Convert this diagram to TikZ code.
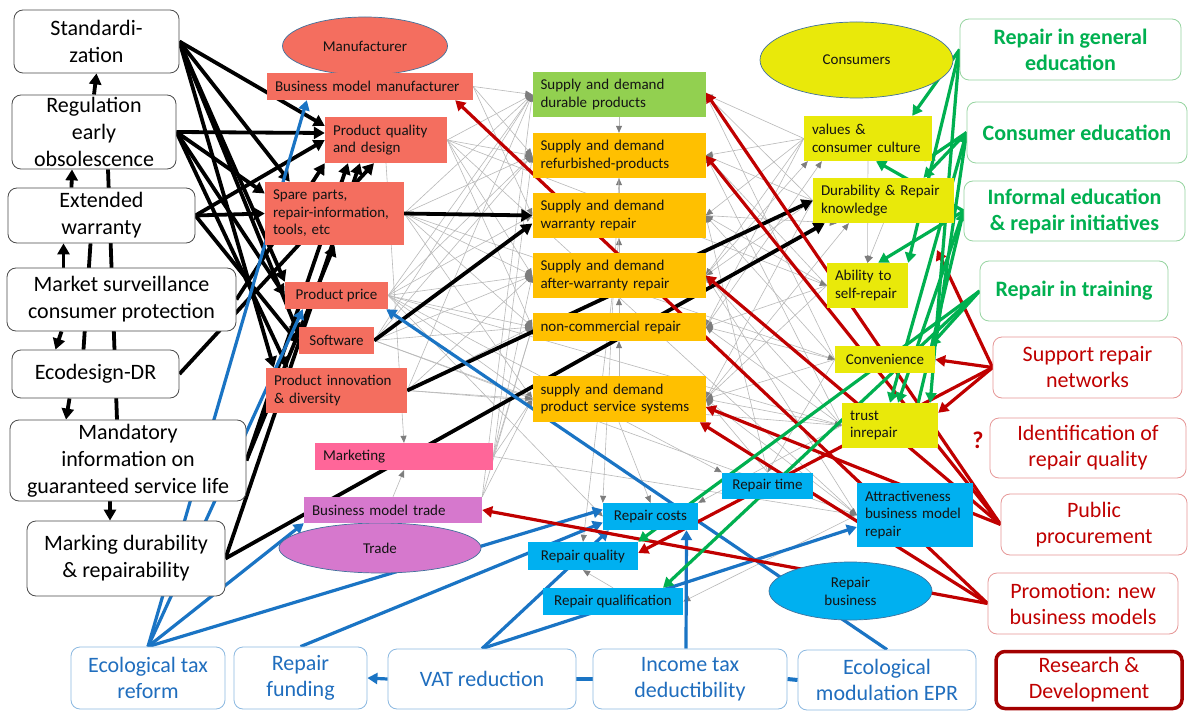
\documentclass[tikz,border=0pt]{standalone}
\usepackage{fontspec}
\setmainfont{Carlito}
\usetikzlibrary{arrows.meta,shapes.geometric,calc}
\pgfdeclarelayer{bg}
\pgfdeclarelayer{edges}
\pgfsetlayers{bg,edges,main}
\definecolor{salmon}{RGB}{244,110,95}
\definecolor{mktpink}{RGB}{255,102,153}
\definecolor{orchidc}{RGB}{214,120,205}
\definecolor{sdgreen}{RGB}{146,208,80}
\definecolor{sdorange}{RGB}{255,192,0}
\definecolor{ylw}{RGB}{233,233,10}
\definecolor{skyb}{RGB}{0,176,240}
\definecolor{ellborder}{RGB}{65,113,156}
\definecolor{egreen}{RGB}{0,176,80}
\definecolor{ered}{RGB}{192,0,0}
\definecolor{eblue}{RGB}{26,116,196}
\definecolor{tblue}{RGB}{32,110,190}
\definecolor{gborder}{RGB}{150,212,160}
\definecolor{rborder}{RGB}{230,150,150}
\definecolor{bborder}{RGB}{140,185,225}
\definecolor{boxtext}{RGB}{20,20,20}
\definecolor{tipgray}{RGB}{125,125,125}
\tikzset{
  lbox/.style={draw=black!70, line width=0.8pt, rounded corners=9pt, fill=white, align=center, inner sep=1pt, font=\fontsize{22}{27}\selectfont},
  gbox/.style={draw=gborder, line width=0.8pt, rounded corners=9pt, fill=white, align=center, inner sep=1pt, text=egreen, font=\bfseries\fontsize{22}{26}\selectfont},
  rbox/.style={draw=rborder, line width=0.8pt, rounded corners=9pt, fill=white, align=center, inner sep=1pt, text=ered, font=\fontsize{22}{26}\selectfont},
  bbox/.style={draw=bborder, line width=0.8pt, rounded corners=9pt, fill=white, align=center, inner sep=1pt, text=tblue, font=\fontsize{22}{26}\selectfont},
  cbox/.style={rectangle, inner xsep=8pt, inner ysep=2pt, align=left, text=boxtext, font=\fontsize{15}{17.5}\selectfont},
  ccbox/.style={rectangle, inner sep=2pt, align=center, text=boxtext, font=\fontsize{15}{17.5}\selectfont},
  ell/.style={ellipse, draw=ellborder, line width=0.7pt, inner sep=0pt, align=center, text=boxtext, font=\fontsize{15}{18}\selectfont},
  gy/.style={line width=0.6pt, draw=gray!55, -{Triangle[length=7pt,width=6pt,color=tipgray]}},
  blk/.style={line width=3.8pt, black, -{Triangle[length=11pt,width=12pt]}},
  blkl/.style={line width=3.8pt, black},
  blu/.style={line width=3.2pt, eblue, -{Triangle[length=10pt,width=11pt]}},
  blul/.style={line width=4pt, eblue},
  redl/.style={line width=3.2pt, ered, -{Triangle[length=10pt,width=11pt]}},
  grnl/.style={line width=3.2pt, egreen, -{Triangle[length=10pt,width=11pt]}}
}
\begin{document}
\begin{tikzpicture}[x=1pt,y=-1pt]
\begin{pgfonlayer}{bg}
\fill[white] (0,0) rectangle (1188,711);
\end{pgfonlayer}
\useasboundingbox (0,0) rectangle (1188,711);

% left column
\node[lbox, minimum width=165pt, minimum height=63pt] (std) at (96.5,41.5) {Standardi-\\zation};
\node[lbox, minimum width=164pt, minimum height=74pt] (reg) at (94,132) {Regulation\\early\\obsolescence};
\node[lbox, minimum width=187pt, minimum height=55pt] (ext) at (101.5,215.5) {Extended\\warranty};
\node[lbox, minimum width=229pt, minimum height=63pt] (msc) at (121.5,299.5) {Market surveillance\\consumer protection};
\node[lbox, minimum width=167pt, minimum height=48pt] (eco) at (95.5,374) {Ecodesign-DR};
\node[lbox, minimum width=236pt, minimum height=81pt] (mand) at (128,460.5) {Mandatory\\information on\\guaranteed service life};
\node[lbox, minimum width=198pt, minimum height=75pt] (mark) at (126,558.5) {Marking durability\\\& repairability};

% manufacturer group
\node[ell, fill=salmon, minimum width=165pt, minimum height=58pt] (manu) at (365,46) {Manufacturer};
\node[cbox, fill=salmon, text width=190pt, minimum height=27pt] (bmm) at (370,86.5) {Business model manufacturer};
\node[cbox, fill=salmon, text width=106pt, minimum height=46pt] (pqd) at (386,140) {Product quality\\and design};
\node[cbox, fill=salmon, text width=123pt, minimum height=63pt] (spare) at (334.5,213.5) {Spare parts,\\repair-information,\\tools, etc};
\node[ccbox, fill=salmon, minimum width=103pt, minimum height=27pt] (price) at (336.5,295.5) {Product price};
\node[ccbox, fill=salmon, minimum width=75pt, minimum height=27pt] (soft) at (336.5,340.5) {Software};
\node[cbox, fill=salmon, text width=125pt, minimum height=45pt] (innov) at (336.5,390.5) {Product innovation\\\& diversity};
\node[cbox, fill=mktpink, text width=162pt, minimum height=27pt] (mkt) at (404,456.5) {Marketing};
\node[ell, fill=orchidc, minimum width=202pt, minimum height=50pt] (trade) at (380,548) {Trade};
\node[cbox, fill=orchidc, text width=162pt, minimum height=26pt] (bmt) at (393,510) {Business model trade};

% middle column
\node[cbox, fill=sdgreen, text width=157pt, minimum height=45pt] (sdd) at (619,94.5) {Supply and demand\\durable products};
\node[cbox, fill=sdorange, text width=157pt, minimum height=45pt] (sdr) at (619,155.5) {Supply and demand\\refurbished-products};
\node[cbox, fill=sdorange, text width=157pt, minimum height=45pt] (sdw) at (619,215.5) {Supply and demand\\warranty repair};
\node[cbox, fill=sdorange, text width=157pt, minimum height=45pt] (sda) at (619,275.5) {Supply and demand\\after-warranty repair};
\node[cbox, fill=sdorange, text width=157pt, minimum height=28pt] (ncr) at (619,327) {non-commercial repair};
\node[cbox, fill=sdorange, text width=157pt, minimum height=46pt] (pss) at (619,399) {supply and demand\\product service systems};

% consumers
\node[ell, fill=ylw, minimum width=193pt, minimum height=76pt] (cons) at (856.5,60) {Consumers};
\node[cbox, fill=ylw, text width=112pt, minimum height=45pt] (val) at (868,138.5) {values \&\\consumer culture};
\node[cbox, fill=ylw, text width=125pt, minimum height=45pt] (know) at (883.5,200.5) {Durability \& Repair\\knowledge};
\node[cbox, fill=ylw, text width=65pt, minimum height=45pt] (self) at (867.5,285.5) {Ability to\\self-repair};
\node[ccbox, fill=ylw, minimum width=100pt, minimum height=27pt] (conv) at (885,359.5) {Convenience};
\node[cbox, fill=ylw, text width=80pt, minimum height=45pt] (trust) at (890,425.5) {trust\\inrepair};

% repair business
\node[ccbox, fill=skyb, minimum width=91pt, minimum height=26pt] (rtime) at (767.5,485.5) {Repair time};
\node[cbox, fill=skyb, text width=100pt, minimum height=64pt] (attr) at (915,515) {Attractiveness\\business model\\repair};
\node[ccbox, fill=skyb, minimum width=95pt, minimum height=27pt] (rcost) at (650.5,516.5) {Repair costs};
\node[ccbox, fill=skyb, minimum width=110pt, minimum height=28pt] (rqual) at (583,556) {Repair quality};
\node[ccbox, fill=skyb, minimum width=140pt, minimum height=27pt] (rqualif) at (613,601.5) {Repair qualification};
\node[ell, fill=skyb, minimum width=163pt, minimum height=58pt] (rbus) at (850.5,591) {Repair\\business};

% right column
\node[gbox, minimum width=221pt, minimum height=61pt] (gen) at (1070.5,49.5) {Repair in general\\education};
\node[gbox, minimum width=220pt, minimum height=61pt] (cedu) at (1077,132.5) {Consumer education};
\node[gbox, minimum width=221pt, minimum height=60pt] (inf) at (1074.5,211) {Informal education\\\& repair initiatives};
\node[gbox, minimum width=188pt, minimum height=60pt] (train) at (1074,291) {Repair in training};
\node[rbox, minimum width=189pt, minimum height=61pt] (srn) at (1087.5,367.5) {Support repair\\networks};
\node[rbox, minimum width=196pt, minimum height=60pt] (idq) at (1088,448) {Identification of\\repair quality};
\node[rbox, minimum width=186pt, minimum height=61pt] (pp) at (1094,524.5) {Public\\procurement};
\node[rbox, minimum width=190pt, minimum height=61pt] (prom) at (1083,603.5) {Promotion: new\\business models};
\node[rbox, draw=ered!85!black, line width=3.5pt, minimum width=186pt, minimum height=57pt] (rd) at (1089,680) {Research \&\\Development};
\node[text=ered, font=\bfseries\fontsize{24}{24}\selectfont, inner sep=0pt] (qm) at (978,440) {?};

% bottom row
\node[bbox, minimum width=154pt, minimum height=62pt] (etr) at (148,678) {Ecological tax\\reform};
\node[bbox, minimum width=133pt, minimum height=62pt] (rf) at (300.5,678) {Repair\\funding};
\node[bbox, minimum width=188pt, minimum height=60pt] (vat) at (482,679) {VAT reduction};
\node[bbox, minimum width=194pt, minimum height=60pt] (itd) at (690,679) {Income tax\\deductibility};
\node[bbox, minimum width=178pt, minimum height=60pt] (epr) at (887,680) {Ecological\\modulation EPR};

\coordinate (kt) at (937,250);

\begin{pgfonlayer}{edges}
% grey web
\foreach \a/\b in {bmm.east/sdd.west, bmm.east/sdr.west, bmm.east/sdw.west,
 pqd.east/sdd.west, pqd.east/sdr.west, pqd.east/sda.west, pqd.east/ncr.west,
 spare.east/sdd.west, spare.east/sdr.west, spare.east/sda.west, spare.east/ncr.west, spare.east/pss.west,
 price.east/sdd.west, price.east/sdr.west, price.east/sdw.west, price.east/sda.west, price.east/ncr.west, price.east/pss.west,
 soft.east/sdd.west, soft.east/sdr.west, soft.east/sda.west, soft.east/ncr.west, soft.east/pss.west,
 innov.east/sdd.west, innov.east/sda.west, innov.east/ncr.west, innov.east/pss.west,
 mkt.east/sdr.west, mkt.east/sda.west, mkt.east/ncr.west, mkt.east/pss.west,
 bmt.north east/sdd.west, bmt.north east/ncr.west, bmt.north east/pss.west,
 val.west/sdd.east, val.west/sdr.east, val.west/sdw.east, val.west/sda.east, val.west/ncr.east,
 know.west/sdd.east, know.west/sdr.east, know.west/sda.east, know.west/pss.east,
 self.west/sdr.east, self.west/sdw.east, self.west/ncr.east, self.west/pss.east,
 conv.west/sdd.east, conv.west/sdw.east, conv.west/ncr.east, conv.west/pss.east,
 trust.west/sdr.east, trust.west/sda.east, trust.west/ncr.east, trust.west/pss.east,
 attr.west/sda.east, attr.west/pss.east, rtime.north/sdw.east, rtime.north/pss.east,
 price.east/trust.west, spare.east/conv.west, soft.east/attr.west, pqd.east/attr.west,
 innov.east/trust.west, mkt.east/attr.west, price.east/rtime.north west, pqd.east/self.west,
 sdd.south/sdr.north, sdw.north/sdr.south, sda.north/sdw.south, ncr.north/sda.south, pss.north/ncr.south,
 val.south/self.north, know.south/self.north,
 rqualif.north/rqual.south, attr.west/rqualif.east, price.east/rcost.west, pss.south/rcost.north,
 sdw.south/rqual.north, sdr.south/rcost.north west, trust.west/rcost.north east, conv.west/rtime.north,
 bmt.north/mkt.south, pqd.south/mkt.north}
 \draw[gy] (\a) -- (\b);
\draw[gy] (sda.east) -- ($(val.south west)+(4,0)$);
\draw[gy] (ncr.east) -- ($(val.south west)+(18,0)$);
\draw[gy] (sdw.east) -- ($(know.south west)+(24,0)$);
\draw[gy] (pss.east) -- ($(know.south west)+(36,0)$);

% black
\draw[blk] (reg.north) -- (std.south);
\draw[blk] ($(ext.north)+(-30,0)$) -- ($(reg.south)+(-22,0)$);
\draw[blk] ($(msc.north)+(-58,0)$) -- ($(ext.south)+(-38,0)$);
\draw[blk] ($(msc.south)+(-60,0)$) -- ($(eco.north)+(-40,0)$);
\draw[blk] ($(eco.south)+(-26,0)$) -- ($(mand.north)+(-62,0)$);
\draw[blk] ($(mand.south)+(-18,0)$) -- ($(mark.north)+(-16,0)$);
\draw[blkl] ($(reg.south)+(14,0)$) -- ($(mand.north)+(-11,0)$);
\draw[blkl] ($(ext.south)+(-11,0)$) -- ($(eco.north)+(-12,0)$);
\draw[blk] (std.east) -- ($(pqd.west)+(0,-14)$);
\draw[blk] (std.east) -- ($(spare.north west)+(25,0)$);
\draw[blk] (std.east) -- (price.north west);
\draw[blk] (std.east) -- ($(soft.west)+(0,-6)$);
\draw[blk] (std.east) -- ($(innov.north west)+(8,0)$);
\draw[blk] (reg.east) -- ($(pqd.west)+(0,-7)$);
\draw[blk] (reg.east) -- ($(spare.west)+(0,-20)$);
\draw[blk] (reg.east) -- (price.west);
\draw[blk] (reg.east) -- ($(innov.north west)+(22,0)$);
\draw[blk] (ext.east) -- (pqd.west);
\draw[blk] (ext.east) -- (spare.west);
\draw[blk] (ext.east) -- ($(soft.west)+(0,3)$);
\draw[blk] (msc.east) -- (pqd.south west);
\draw[blk] (eco.east) -- ($(pqd.south)+(-12,0)$);
\draw[blk] (mand.east) -- ($(pqd.south)+(-38,0)$);
\draw[blk] (mand.east) -- (spare.south);
\draw[blk] (mark.east) -- ($(pqd.south)+(-26,0)$);
\draw[blk] (mark.east) -- ($(know.south west)+(12,0)$);
\draw[blk] (innov.east) -- (know.west);
\draw[blk] (spare.east) -- (sdw.west);
\draw[blk] (soft.east) -- ($(sdw.west)+(0,8)$);

% blue
\draw[blu] (etr.north) -- ($(bmm.south west)+(40,0)$);
\draw[blu] (etr.north) -- ($(price.south west)+(18,0)$);
\draw[blu] (etr.north) -- (bmt.south west);
\draw[blu] (etr.north) -- ($(rcost.west)+(0,-7)$);
\draw[blu] (rf.north) -- ($(rcost.west)+(0,6)$);
\draw[blu] (vat.north) -- ($(rcost.south west)+(6,0)$);
\draw[blu] (vat.north) -- ($(attr.west)+(0,12)$);
\draw[blu] ($(itd.north)+(-4,0)$) -- ($(rcost.south)+(36,0)$);
\draw[blu] (epr.north) -- ($(price.south east)+(-2,0)$);
\draw[blu] (vat.west) -- (rf.east);
\draw[blul] (vat.east) -- (itd.west);
\draw[blul] (itd.east) -- (epr.west);

% red
\draw[redl] (prom.west) -- ($(bmm.south east)+(-18,0)$);
\draw[redl] (prom.west) -- (bmt.east);
\draw[redl] (prom.west) -- ($(pss.south east)+(-6,0)$);
\draw[redl] (pp.west) -- ($(sdd.east)+(0,-2)$);
\draw[redl] (pp.west) -- (sdr.east);
\draw[redl] (pp.west) -- (sda.east);
\draw[redl] (pp.west) -- ($(pss.east)+(0,8)$);
\draw[redl] (srn.west) -- (conv.east);
\draw[redl] (srn.west) -- ($(trust.north east)+(0,10)$);
\draw[redl] (srn.west) -- ($(rqual.east)+(0,-3)$);
\draw[redl] (srn.west) -- (kt);

% green
\draw[grnl] (gen.west) -- ($(val.north east)+(-20,0)$);
\draw[grnl] (gen.west) -- ($(trust.north east)+(-8,0)$);
\draw[grnl] (gen.west) -- (self.north east);
\draw[grnl] (cedu.west) -- ($(val.south east)+(-8,0)$);
\draw[grnl] (cedu.west) -- ($(know.north)+(40,0)$);
\draw[grnl] (cedu.west) -- (trust.north);
\draw[grnl] (inf.west) -- ($(val.south)+(8,0)$);
\draw[grnl] (inf.west) -- ($(self.north east)+(-30,0)$);
\draw[grnl] (inf.west) -- ($(trust.north)+(8,0)$);
\draw[grnl] (conv.north east) -- (cedu.west);
\draw[grnl] ($(trust.north east)+(-20,0)$) -- (inf.west);
\draw[grnl] (train.west) -- (rqual.north east);
\draw[grnl] (train.west) -- ($(rqualif.north)+(50,0)$);
\draw[grnl] (train.west) -- ($(conv.north east)+(-5,0)$);
\end{pgfonlayer}
\end{tikzpicture}
\end{document}
